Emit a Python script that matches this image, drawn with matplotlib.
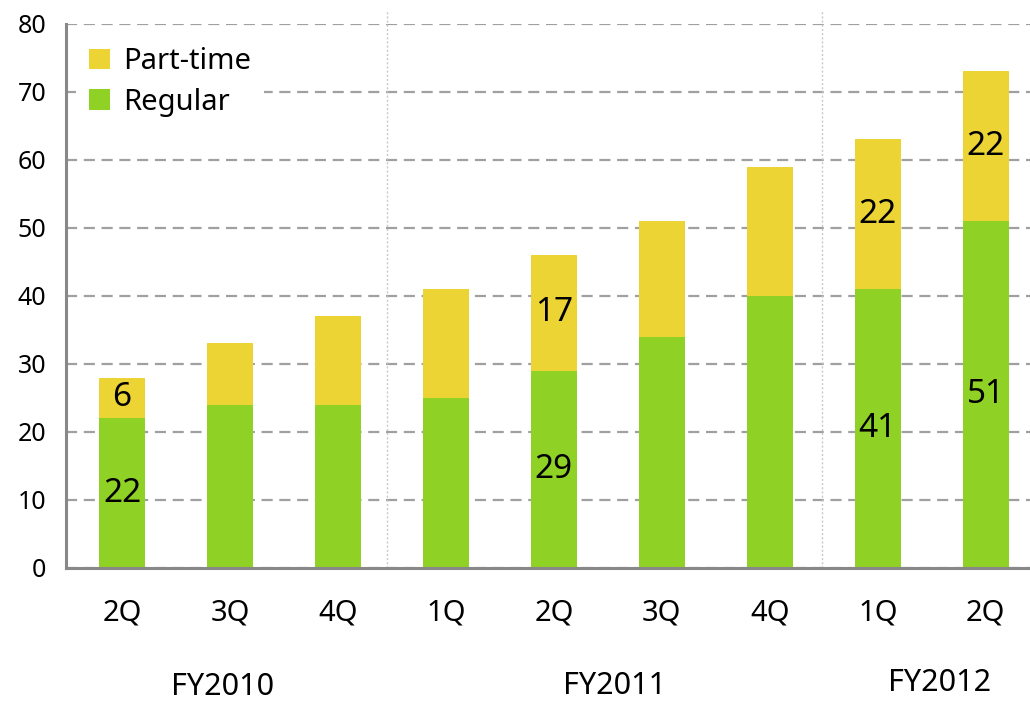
import matplotlib
matplotlib.use("Agg")
import matplotlib.pyplot as plt
import matplotlib.transforms as mtransforms
import numpy as np

plt.rcParams['font.family'] = ['Noto Sans', 'DejaVu Sans']

# Data
quarters = ["2Q", "3Q", "4Q", "1Q", "2Q", "3Q", "4Q", "1Q", "2Q"]
regular = [22, 24, 24, 25, 29, 34, 40, 41, 51]
part_time = [6, 9, 13, 16, 17, 17, 19, 22, 22]
years = ["FY2010", "FY2011", "FY2012"]
year_centers = [0.93, 4.56, 7.57]
year_y = [-0.218, -0.217, -0.211]
separators = [2.45, 6.48]
# labelled values
labels_regular = {0: 22, 4: 29, 7: 41, 8: 51}
labels_part = {0: 6, 4: 17, 7: 22, 8: 22}

green = "#8fd124"
yellow = "#ecd434"

fig = plt.figure(figsize=(10.3, 7.02), dpi=100)
ax = fig.add_axes([0.064, 0.191, 0.936, 0.775])

x = np.arange(len(quarters))
w = 0.43
ax.bar(x, regular, width=w, color=green, label="Regular", zorder=3)
ax.bar(x, part_time, width=w, bottom=regular, color=yellow, label="Part-time", zorder=3)

for i, v in labels_regular.items():
    ax.text(x[i], v / 2, str(v), ha="center", va="center", fontsize=24, zorder=5)
for i, v in labels_part.items():
    ax.text(x[i], regular[i] + v / 2, str(v), ha="center", va="center", fontsize=24, zorder=5)

ax.set_xlim(-0.52, 8.41)
ax.set_ylim(0, 80)
ax.set_yticks(range(0, 81, 10))
ax.yaxis.grid(True, linestyle=(0, (5, 3)), color="#a0a0a0", linewidth=1.6, zorder=0)
ax.set_axisbelow(True)

# FY separators
for sx in separators:
    ax.plot([sx, sx], [0, 82], linestyle=(0, (1.5, 1.5)), color="#c8c8c8",
            linewidth=1, clip_on=False, zorder=1)

ax.set_xticks(x)
ax.set_xticklabels(quarters)
ax.tick_params(axis="x", length=0, pad=22, labelsize=21)
ax.tick_params(axis="y", length=0, pad=14, labelsize=18)

for s in ["top", "right"]:
    ax.spines[s].set_visible(False)
for s in ["left", "bottom"]:
    ax.spines[s].set_color("#888888")
    ax.spines[s].set_linewidth(2.2)
    ax.spines[s].set_zorder(4)

trans = mtransforms.blended_transform_factory(ax.transData, ax.transAxes)
for name, cx, cy in zip(years, year_centers, year_y):
    ax.text(cx, cy, name, transform=trans, ha="center", va="center", fontsize=22)

handles, labs = ax.get_legend_handles_labels()
leg = ax.legend(handles[::-1], labs[::-1], loc="upper left", bbox_to_anchor=(0.0, 1.0),
                fontsize=21, frameon=True, facecolor="white", edgecolor="none",
                framealpha=1, handlelength=0.7, handleheight=0.7, handletextpad=0.45,
                labelspacing=0.4, borderpad=0.45, borderaxespad=0.35, fancybox=False)
leg.set_zorder(6)

fig.savefig("out.png", dpi=100)
